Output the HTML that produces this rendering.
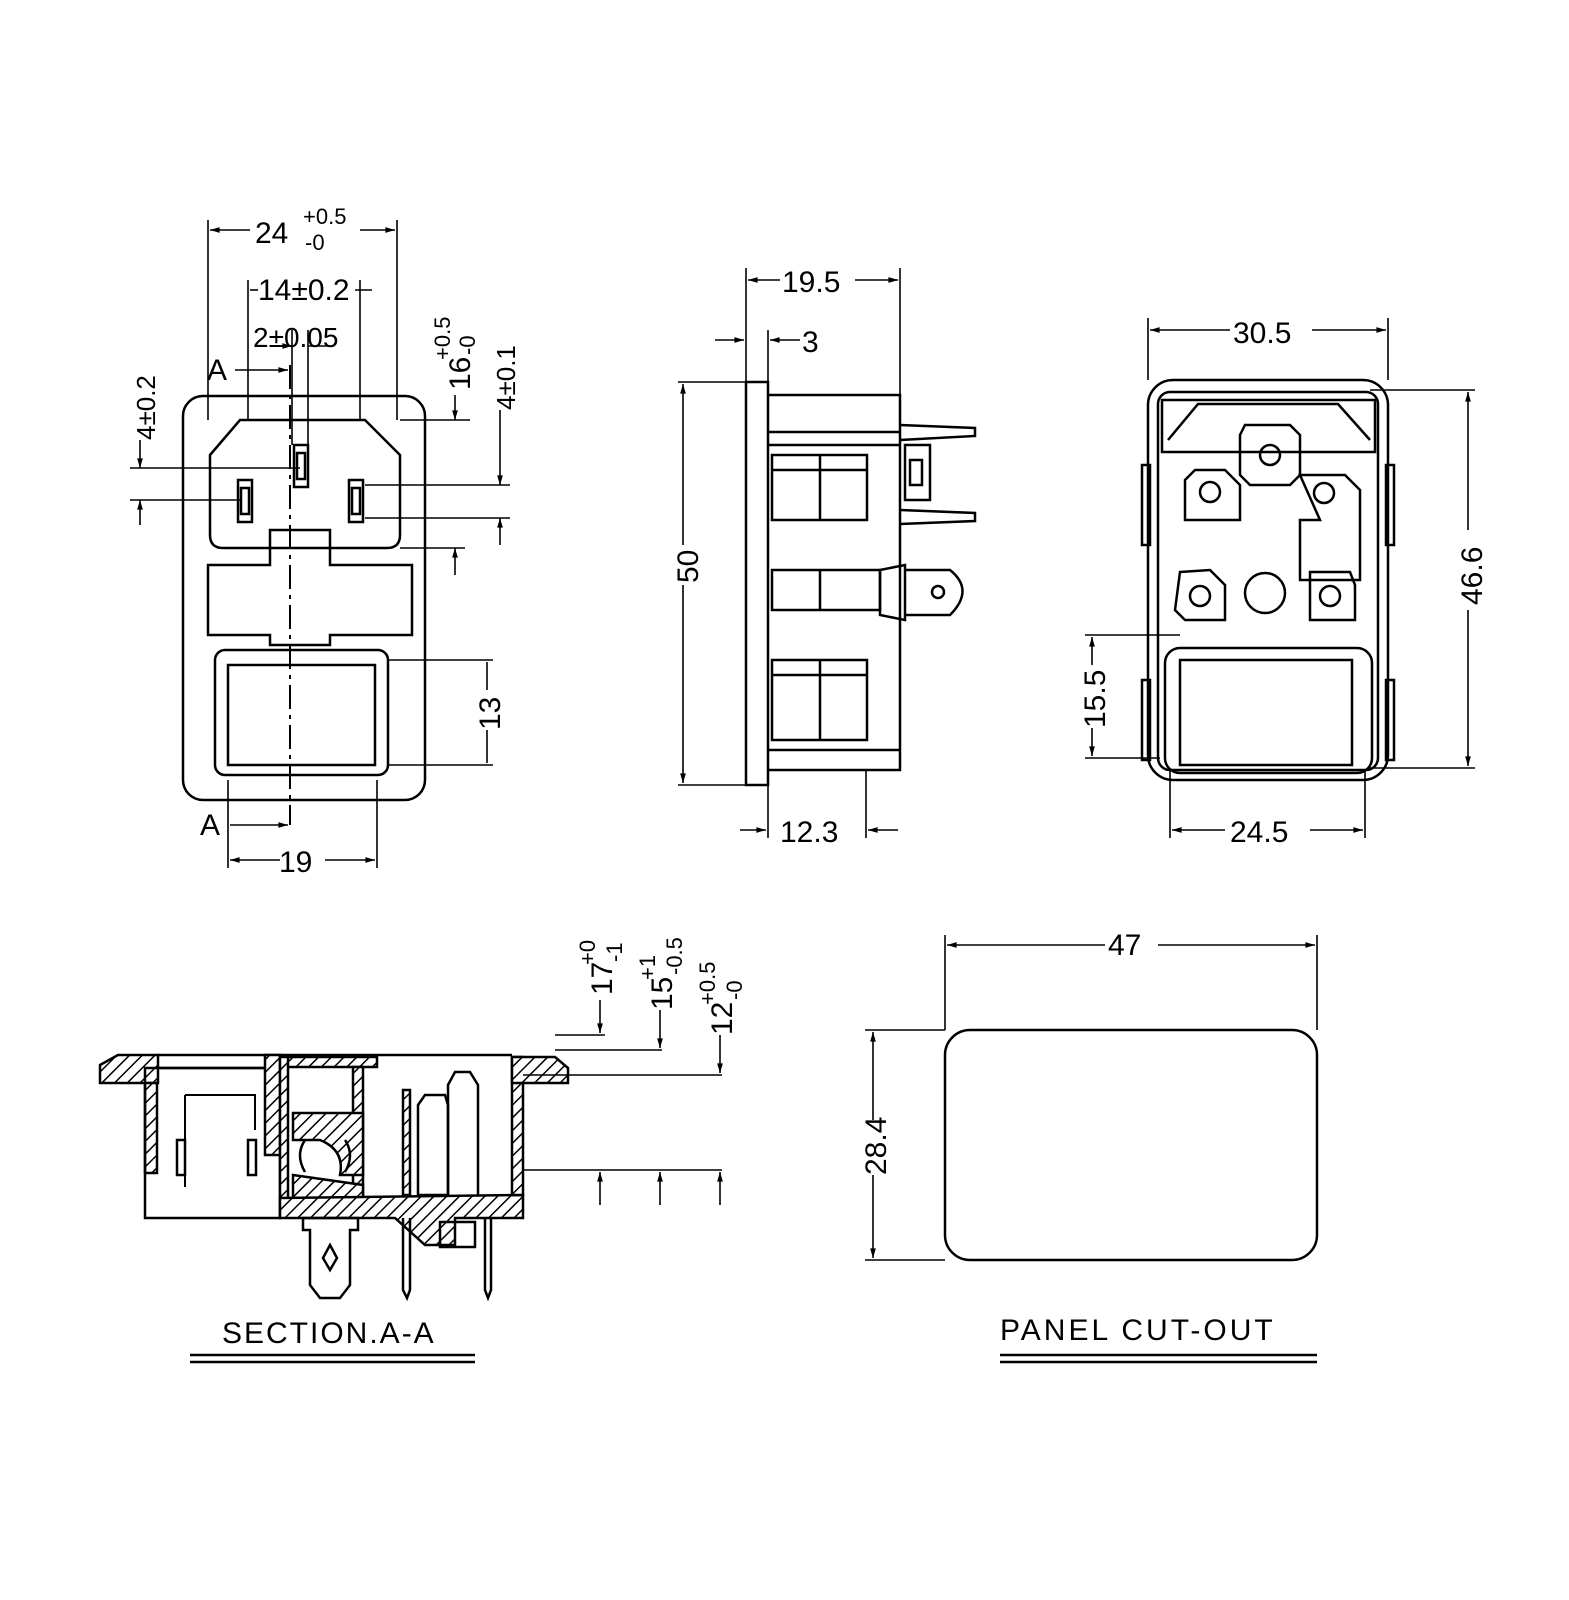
<!DOCTYPE html>
<html><head><meta charset="utf-8"><style>
html,body{margin:0;padding:0;background:#fff}
svg{display:block}
text{font-family:"Liberation Sans",sans-serif;fill:#000}
</style></head><body>
<svg width="1569" height="1600" viewBox="0 0 1569 1600" xmlns="http://www.w3.org/2000/svg">
<defs>
<pattern id="h" width="9" height="9" patternUnits="userSpaceOnUse" patternTransform="rotate(45)">
<rect width="9" height="9" fill="#fff"/><line x1="0" y1="0" x2="0" y2="9" stroke="#000" stroke-width="3"/></pattern>
<marker id="a" viewBox="0 0 10 10" refX="10" refY="5" markerWidth="10" markerHeight="6" orient="auto-start-reverse"><path d="M0,2 L10,5 L0,8 z" fill="#000"/></marker>
</defs>
<g fill="none" stroke="#000" stroke-width="2.5">
<rect x="183" y="396" width="242" height="404" rx="20"/>
<path d="M240,420 L365,420 L400,455 L400,535 Q400,548 387,548 L223,548 Q210,548 210,535 L210,455 Z"/>
<rect x="238" y="480" width="14" height="42"/><rect x="241" y="488" width="8" height="26"/>
<rect x="294" y="445" width="14" height="42"/><rect x="297" y="453" width="8" height="26"/>
<rect x="349" y="480" width="14" height="42"/><rect x="352" y="488" width="8" height="26"/>
<path d="M270,530 L330,530 L330,565 L412,565 L412,635 L330,635 L330,645 L270,645 L270,635 L208,635 L208,565 L270,565 Z"/>
<rect x="215" y="650" width="173" height="125" rx="10"/>
<rect x="228" y="665" width="147" height="100"/>
<line x1="290" y1="365" x2="290" y2="825" stroke-width="2" stroke-dasharray="24,6,4,6"/>
<g stroke-width="1.6">
<line x1="208" y1="220" x2="208" y2="420"/><line x1="397" y1="220" x2="397" y2="420"/>
<line x1="210" y1="230" x2="250" y2="230" marker-start="url(#a)"/><line x1="360" y1="230" x2="395" y2="230" marker-end="url(#a)"/>
<line x1="248" y1="280" x2="248" y2="420"/><line x1="360" y1="280" x2="360" y2="420"/>
<line x1="250" y1="290" x2="258" y2="290"/><line x1="355" y1="290" x2="372" y2="290"/>
<line x1="292" y1="330" x2="292" y2="445"/><line x1="308" y1="330" x2="308" y2="445"/>
<line x1="270" y1="346" x2="292" y2="346" marker-end="url(#a)"/><line x1="308" y1="346" x2="330" y2="346"/>
<line x1="235" y1="370" x2="288" y2="370" marker-end="url(#a)"/>
<line x1="230" y1="825" x2="288" y2="825" marker-end="url(#a)"/>
<line x1="400" y1="420" x2="470" y2="420"/><line x1="400" y1="548" x2="465" y2="548"/>
<line x1="455" y1="395" x2="455" y2="420" marker-end="url(#a)"/><line x1="455" y1="548" x2="455" y2="575" marker-start="url(#a)"/>
<line x1="365" y1="485" x2="510" y2="485"/><line x1="365" y1="518" x2="510" y2="518"/>
<line x1="500" y1="410" x2="500" y2="485" marker-end="url(#a)"/><line x1="500" y1="518" x2="500" y2="545" marker-start="url(#a)"/>
<line x1="130" y1="468" x2="300" y2="468"/><line x1="130" y1="500" x2="240" y2="500"/>
<line x1="140" y1="440" x2="140" y2="468" marker-end="url(#a)"/><line x1="140" y1="500" x2="140" y2="525" marker-start="url(#a)"/>
<line x1="388" y1="660" x2="493" y2="660"/><line x1="388" y1="765" x2="493" y2="765"/>
<line x1="487" y1="662" x2="487" y2="690"/><line x1="487" y1="730" x2="487" y2="763"/>
<line x1="228" y1="780" x2="228" y2="868"/><line x1="377" y1="780" x2="377" y2="868"/>
<line x1="230" y1="860" x2="280" y2="860" marker-start="url(#a)"/><line x1="325" y1="860" x2="375" y2="860" marker-end="url(#a)"/>
</g>
<rect x="746" y="382" width="22" height="403"/>
<path d="M768,395 L900,395 L900,770 L768,770"/>
<line x1="768" y1="432" x2="900" y2="432"/><line x1="768" y1="445" x2="900" y2="445"/>
<line x1="768" y1="750" x2="900" y2="750"/>
<rect x="772" y="455" width="95" height="65"/><line x1="772" y1="470" x2="867" y2="470"/><line x1="820" y1="455" x2="820" y2="520"/>
<rect x="772" y="660" width="95" height="80"/><line x1="772" y1="675" x2="867" y2="675"/><line x1="820" y1="660" x2="820" y2="740"/>
<rect x="772" y="570" width="108" height="40"/><line x1="820" y1="570" x2="820" y2="610"/>
<path d="M880,570 L905,565 L905,620 L880,615 Z"/>
<path d="M905,570 L950,570 Q975,590 950,615 L905,615"/><circle cx="938" cy="592" r="6"/>
<path d="M900,425 L975,428 L975,436 L900,440"/><path d="M900,510 L975,513 L975,521 L900,524"/>
<rect x="905" y="445" width="25" height="55"/><rect x="910" y="460" width="12" height="25"/>
<g stroke-width="1.6">
<line x1="746" y1="268" x2="746" y2="382"/><line x1="900" y1="268" x2="900" y2="395"/>
<line x1="748" y1="280" x2="780" y2="280" marker-start="url(#a)"/><line x1="855" y1="280" x2="898" y2="280" marker-end="url(#a)"/>
<line x1="768" y1="330" x2="768" y2="382"/>
<line x1="715" y1="340" x2="744" y2="340" marker-end="url(#a)"/><line x1="770" y1="340" x2="800" y2="340" marker-start="url(#a)"/>
<line x1="678" y1="382" x2="746" y2="382"/><line x1="678" y1="785" x2="746" y2="785"/>
<line x1="683" y1="384" x2="683" y2="545" marker-start="url(#a)"/><line x1="683" y1="585" x2="683" y2="783" marker-end="url(#a)"/>
<line x1="768" y1="785" x2="768" y2="838"/><line x1="866" y1="770" x2="866" y2="838"/>
<line x1="740" y1="830" x2="766" y2="830" marker-end="url(#a)"/><line x1="868" y1="830" x2="898" y2="830" marker-start="url(#a)"/>
</g>
<rect x="1148" y="380" width="240" height="400" rx="25"/>
<rect x="1158" y="392" width="220" height="378" rx="12"/>
<path d="M1162,452 L1162,400 L1375,400 L1375,452 Z"/>
<path d="M1168,440 L1198,404 L1338,404 L1370,440"/>
<path d="M1245,425 L1290,425 L1300,435 L1300,475 L1290,485 L1250,485 L1240,475 L1240,435 Z"/><circle cx="1270" cy="455" r="10"/>
<path d="M1195,470 L1225,470 L1240,485 L1240,520 L1185,520 L1185,480 Z"/><circle cx="1210" cy="492" r="10"/>
<path d="M1300,475 L1345,475 L1360,490 L1360,580 L1300,580 L1300,520 L1320,520 Z"/><circle cx="1324" cy="493" r="10"/>
<path d="M1180,572 L1210,570 L1225,585 L1225,620 L1185,620 L1175,610 Z"/><circle cx="1200" cy="596" r="10"/>
<path d="M1310,572 L1350,572 L1355,585 L1355,620 L1310,620 Z"/><circle cx="1330" cy="596" r="10"/>
<circle cx="1265" cy="593" r="20"/>
<rect x="1165" y="648" width="207" height="125" rx="15"/>
<rect x="1180" y="660" width="172" height="105"/>
<rect x="1142" y="465" width="8" height="80"/><rect x="1142" y="680" width="8" height="80"/>
<rect x="1386" y="465" width="8" height="80"/><rect x="1386" y="680" width="8" height="80"/>
<g stroke-width="1.6">
<line x1="1148" y1="318" x2="1148" y2="380"/><line x1="1388" y1="318" x2="1388" y2="380"/>
<line x1="1150" y1="330" x2="1230" y2="330" marker-start="url(#a)"/><line x1="1312" y1="330" x2="1386" y2="330" marker-end="url(#a)"/>
<line x1="1370" y1="390" x2="1475" y2="390"/><line x1="1370" y1="768" x2="1475" y2="768"/>
<line x1="1468" y1="392" x2="1468" y2="530" marker-start="url(#a)"/><line x1="1468" y1="610" x2="1468" y2="766" marker-end="url(#a)"/>
<line x1="1085" y1="635" x2="1180" y2="635"/><line x1="1085" y1="758" x2="1160" y2="758"/>
<line x1="1092" y1="637" x2="1092" y2="665" marker-start="url(#a)"/><line x1="1092" y1="728" x2="1092" y2="756" marker-end="url(#a)"/>
<line x1="1170" y1="770" x2="1170" y2="838"/><line x1="1365" y1="770" x2="1365" y2="838"/>
<line x1="1172" y1="830" x2="1225" y2="830" marker-start="url(#a)"/><line x1="1310" y1="830" x2="1363" y2="830" marker-end="url(#a)"/>
</g>
<path d="M100,1065 L118,1055 L158,1055 L158,1083 L100,1083 Z" fill="url(#h)"/>
<rect x="145" y="1083" width="12" height="90" fill="url(#h)"/>
<line x1="158" y1="1055" x2="512" y2="1055"/>
<line x1="158" y1="1068" x2="280" y2="1068"/>
<rect x="145" y="1068" width="135" height="150"/>
<path d="M185,1095 L185,1187 M185,1095 L255,1095 L255,1130" stroke-width="2"/>
<rect x="177" y="1140" width="8" height="35"/><rect x="248" y="1140" width="8" height="35"/>
<rect x="265" y="1055" width="15" height="100" fill="url(#h)"/>
<rect x="280" y="1057" width="97" height="10" fill="url(#h)"/>
<rect x="280" y="1057" width="8" height="160" fill="url(#h)"/>
<rect x="353" y="1067" width="10" height="130" fill="url(#h)"/>
<path d="M293,1113 L363,1113 L363,1175 L340,1175 Q345,1150 320,1140 L293,1140 Z" fill="url(#h)"/>
<path d="M293,1175 L363,1185 L363,1198 L293,1198 Z" fill="url(#h)"/>
<path d="M280,1198 L523,1195 L523,1218 L455,1218 L455,1245 L425,1245 L395,1218 L280,1218 Z" fill="url(#h)"/>
<path d="M305,1140 Q295,1155 305,1172 M345,1140 Q355,1155 345,1172"/>
<rect x="512" y="1057" width="11" height="138" fill="url(#h)"/>
<path d="M512,1057 L555,1057 L568,1068 L568,1083 L512,1083 Z" fill="url(#h)"/>
<rect x="403" y="1090" width="7" height="105" fill="url(#h)"/>
<path d="M418,1105 L425,1095 L445,1095 L448,1105 L448,1195 L418,1195 Z"/>
<path d="M448,1195 L448,1085 L455,1072 L470,1072 L478,1085 L478,1195"/>
<path d="M303,1230 L303,1218 L358,1218 L358,1230 L350,1230 L350,1285 L340,1298 L320,1298 L310,1285 L310,1230 Z"/>
<path d="M330,1245 L337,1258 L330,1270 L323,1258 Z"/>
<path d="M403,1218 L403,1290 L407,1298 L410,1290 L410,1218"/>
<path d="M485,1218 L485,1290 L488,1298 L491,1290 L491,1218"/>
<rect x="440" y="1222" width="35" height="25"/>
<g stroke-width="1.6">
<line x1="555" y1="1035" x2="605" y2="1035"/><line x1="555" y1="1050" x2="662" y2="1050"/>
<line x1="523" y1="1075" x2="722" y2="1075"/><line x1="523" y1="1170" x2="722" y2="1170"/>
<line x1="600" y1="1000" x2="600" y2="1033" marker-end="url(#a)"/><line x1="660" y1="1010" x2="660" y2="1048" marker-end="url(#a)"/>
<line x1="720" y1="1035" x2="720" y2="1073" marker-end="url(#a)"/>
<line x1="600" y1="1205" x2="600" y2="1172" marker-end="url(#a)"/><line x1="660" y1="1205" x2="660" y2="1172" marker-end="url(#a)"/><line x1="720" y1="1205" x2="720" y2="1172" marker-end="url(#a)"/>
<line x1="190" y1="1355" x2="475" y2="1355" stroke-width="2.5"/><line x1="190" y1="1362" x2="475" y2="1362" stroke-width="2.5"/>
</g>
<rect x="945" y="1030" width="372" height="230" rx="25"/>
<g stroke-width="1.6">
<line x1="945" y1="935" x2="945" y2="1030"/><line x1="1317" y1="935" x2="1317" y2="1030"/>
<line x1="947" y1="945" x2="1105" y2="945" marker-start="url(#a)"/><line x1="1158" y1="945" x2="1315" y2="945" marker-end="url(#a)"/>
<line x1="865" y1="1030" x2="945" y2="1030"/><line x1="865" y1="1260" x2="945" y2="1260"/>
<line x1="873" y1="1032" x2="873" y2="1120" marker-start="url(#a)"/><line x1="873" y1="1175" x2="873" y2="1258" marker-end="url(#a)"/>
<line x1="1000" y1="1355" x2="1317" y2="1355" stroke-width="2.5"/><line x1="1000" y1="1362" x2="1317" y2="1362" stroke-width="2.5"/>
</g>
</g>
<g font-size="30">
<text x="255" y="243">24</text><text x="303" y="224" font-size="22">+0.5</text><text x="305" y="250" font-size="22">-0</text>
<text x="258" y="300">14±0.2</text>
<text x="253" y="347" font-size="28">2±0.05</text>
<text x="207" y="380">A</text><text x="200" y="835">A</text>
<text x="279" y="872">19</text>
<text transform="translate(470,390) rotate(-90)">16</text><text transform="translate(450,360) rotate(-90)" font-size="22">+0.5</text><text transform="translate(475,355) rotate(-90)" font-size="22">-0</text>
<text transform="translate(515,410) rotate(-90)" font-size="26">4±0.1</text>
<text transform="translate(155,440) rotate(-90)" font-size="26">4±0.2</text>
<text transform="translate(500,730) rotate(-90)">13</text>
<text x="782" y="292">19.5</text><text x="802" y="352">3</text>
<text transform="translate(698,583) rotate(-90)">50</text>
<text x="780" y="842">12.3</text>
<text x="1233" y="343">30.5</text>
<text transform="translate(1482,605) rotate(-90)">46.6</text>
<text transform="translate(1105,728) rotate(-90)">15.5</text>
<text x="1230" y="842">24.5</text>
<text transform="translate(612,995) rotate(-90)">17</text><text transform="translate(595,965) rotate(-90)" font-size="22">+0</text><text transform="translate(622,962) rotate(-90)" font-size="22">-1</text>
<text transform="translate(672,1010) rotate(-90)">15</text><text transform="translate(655,980) rotate(-90)" font-size="22">+1</text><text transform="translate(682,975) rotate(-90)" font-size="22">-0.5</text>
<text transform="translate(732,1035) rotate(-90)">12</text><text transform="translate(715,1005) rotate(-90)" font-size="22">+0.5</text><text transform="translate(742,1000) rotate(-90)" font-size="22">-0</text>
<text x="1108" y="955">47</text>
<text transform="translate(886,1175) rotate(-90)">28.4</text>
<text x="222" y="1343" font-size="30" letter-spacing="2">SECTION.A-A</text>
<text x="1000" y="1340" font-size="30" letter-spacing="3">PANEL CUT-OUT</text>
</g>
</svg>
</body></html>
